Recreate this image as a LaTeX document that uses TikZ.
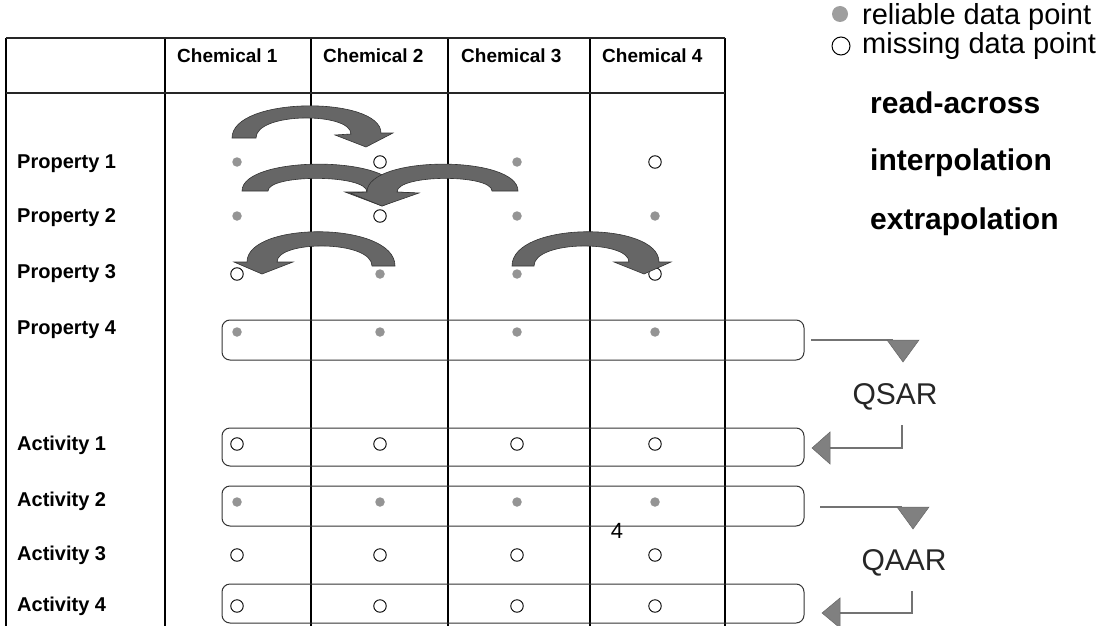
\documentclass[tikz,border=0pt]{standalone}
\usepackage{fontspec}
\setmainfont{Liberation Sans}
\begin{document}
\begin{tikzpicture}[x=1pt,y=-1pt,
  tline/.style={line width=1.8pt, black},
  hline/.style={line width=1.5pt, black!85},
  rowlab/.style={anchor=west, inner sep=0pt, font=\fontsize{20}{22}\selectfont\bfseries},
  collab/.style={anchor=west, inner sep=0pt, font=\fontsize{19}{21}\selectfont\bfseries},
  fdot/.style={circle, fill=black!42, inner sep=0pt, minimum size=9.5pt},
  odot/.style={circle, draw=black, line width=0.9pt, fill=white, inner sep=0pt, minimum size=12.5pt},
  rbox/.style={draw=black!80, line width=1pt, rounded corners=8pt},
  barrow/.style={fill=black!60, draw=black!80, line width=0.6pt},
  gline/.style={draw=black!55, line width=2.6pt},
  ghead/.style={fill=black!50, draw=black!60, line width=0.5pt},
  legtxt/.style={anchor=west, inner sep=0pt, font=\fontsize{29}{31}\selectfont},
  legbold/.style={anchor=west, inner sep=0pt, font=\fontsize{30}{32}\selectfont\bfseries},
  qtxt/.style={inner sep=0pt, font=\fontsize{30}{32}\selectfont, text=black!85}
]
\useasboundingbox (0,0) rectangle (1097,626);

% table grid
\foreach \x in {6,165,311,448,590,725}{
  \draw[tline] (\x,38) -- (\x,626);
}
\draw[hline] (6,38) -- (725,38);
\draw[hline] (6,93) -- (725,93);

% headers
\node[collab] (h1) at (177,56) {Chemical 1};
\node[collab] (h2) at (323,56) {Chemical 2};
\node[collab] (h3) at (461,56) {Chemical 3};
\node[collab] (h4) at (602,56) {Chemical 4};

% row labels
\node[rowlab] (r1) at (17,164) {Property 1};
\node[rowlab] (r2) at (17,218) {Property 2};
\node[rowlab] (r3) at (17,274) {Property 3};
\node[rowlab] (r4) at (17,330) {Property 4};
\node[rowlab] (r5) at (17,445) {Activity 1};
\node[rowlab] (r6) at (17,501) {Activity 2};
\node[rowlab] (r7) at (17,555) {Activity 3};
\node[rowlab] (r8) at (17,606) {Activity 4};

% rounded boxes
\draw[rbox] (222,320) rectangle (804,360);
\draw[rbox] (222,428) rectangle (804,466);
\draw[rbox] (222,486) rectangle (804,526);
\draw[rbox] (222,584) rectangle (804,623);

% data points
\foreach \y/\r/\pat in {162/1/{f,o,f,o},216/2/{f,o,f,f},274/3/{o,f,f,o},332/4/{f,f,f,f},
                        444/5/{o,o,o,o},502/6/{f,f,f,f},555/7/{o,o,o,o},606/8/{o,o,o,o}}{
  \foreach \t [count=\c] in \pat {
    \pgfmathsetmacro{\xx}{{237,380,517,655}[\c-1]}
    \if f\t
      \node[fdot] (d\r\c) at (\xx,\y) {};
    \else
      \node[odot] (d\r\c) at (\xx,\y) {};
    \fi
  }
}

% read-across arrow
\fill[barrow] (232,138) .. controls (232,96) and (381,96) .. (381,133)
  -- (393,133) -- (366,147) -- (335,135) -- (351,134)
  .. controls (351,112) and (256,112) .. (256,138) -- cycle;
% interpolation arrows
\fill[barrow] (242,191) .. controls (242,155) and (397,155) .. (397,192)
  -- (414,193) -- (382,206) -- (345,192) -- (367,192)
  .. controls (367,174) and (268,174) .. (268,191) -- cycle;
\fill[barrow] (518,191) .. controls (518,155) and (367,155) .. (367,192)
  -- (350,193) -- (382,206) -- (419,193) -- (397,192)
  .. controls (397,174) and (492,174) .. (492,191) -- cycle;
% extrapolation arrows
\fill[barrow] (395,266) .. controls (395,221) and (247,221) .. (247,262)
  -- (234,262) -- (262,274) -- (293,262) -- (277,262)
  .. controls (277,240) and (372,240) .. (372,266) -- cycle;
\fill[barrow] (512,266) .. controls (512,221) and (659,221) .. (659,262)
  -- (671,262) -- (644,274) -- (614,262) -- (629,262)
  .. controls (629,240) and (534,240) .. (534,266) -- cycle;

% legend
\node[fdot, minimum size=16pt, fill=black!38] (lf) at (840,14) {};
\node[legtxt] (lt1) at (862,17) {reliable data point};
\node[odot, minimum size=18pt, line width=1pt] (lo) at (841,46) {};
\node[legtxt] (lt2) at (862,46) {missing data point};
\node[legbold] (lt3) at (870,103) {read-across};
\node[legbold] (lt4) at (870,163) {interpolation};
\node[legbold] (lt5) at (870,222) {extrapolation};

% QSAR
\coordinate (qa) at (811,340);
\coordinate (qb) at (893,340);
\draw[gline] (qa) -- (qb);
\fill[ghead] (887,340) -- (919,340) -- (903,362) -- cycle;
\node[qtxt] (qsar) at (895,397) {QSAR};
\coordinate (qc) at (902,425);
\coordinate (qd) at (902,448);
\coordinate (qe) at (826,448);
\draw[gline] (qc) -- (qd) -- (qe);
\fill[ghead] (812,448) -- (830,432) -- (830,464) -- cycle;

% QAAR
\coordinate (ra) at (820,507);
\coordinate (rb) at (902,507);
\draw[gline] (ra) -- (rb);
\fill[ghead] (897,507) -- (929,507) -- (913,529) -- cycle;
\node[qtxt] (qaar) at (904,563) {QAAR};
\coordinate (rc) at (912,591);
\coordinate (rd) at (912,613);
\coordinate (re) at (836,613);
\draw[gline] (rc) -- (rd) -- (re);
\fill[ghead] (822,613) -- (840,598) -- (840,628) -- cycle;

% page number
\node[inner sep=0pt, font=\fontsize{22}{22}\selectfont] (pg) at (617,531) {4};
\end{tikzpicture}
\end{document}
